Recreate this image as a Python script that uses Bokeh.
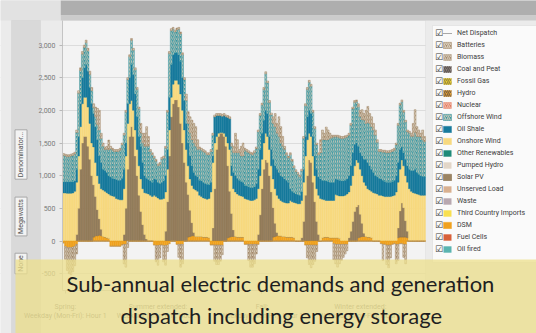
from bokeh.plotting import figure
from bokeh.models import (ColumnDataSource, Range1d, FixedTicker, NumeralTickFormatter,
                          Legend, LegendItem, BoxAnnotation, Label)
from bokeh.transform import stack
from bokeh.embed import file_html
from bokeh.resources import INLINE

# ---------------- data (MW, hourly, 8 representative days) ----------------
hours = list(range(192))

dsm = [
    0, 0, 0, 0, 0, 0, 0, 0, 0, 0, 0, 0, 0, 0, 0, 0, 60, 80, 80, 90, 80, 70, 60, 50,
    40, 0, 0, 0, 0, 0, 0, 0, 0, 0, 0, 0, 0, 0, 0, 0, 0, 0, 0, 0, 0, 0, 0, 0,
    0, 0, 0, 0, 0, 0, 0, 0, 0, 0, 0, 0, 0, 0, 0, 0, 0, 0, 60, 70, 80, 80, 70, 70,
    70, 70, 60, 60, 60, 50, 0, 0, 0, 0, 0, 0, 0, 0, 0, 50, 60, 70, 70, 70, 60, 60, 60, 60,
    0, 0, 0, 0, 0, 0, 0, 0, 0, 0, 0, 0, 0, 0, 0, 60, 70, 80, 80, 80, 70, 70, 60, 60,
    60, 60, 50, 0, 0, 0, 0, 0, 0, 0, 0, 0, 0, 0, 0, 0, 0, 50, 60, 60, 60, 50, 50, 50,
    50, 50, 40, 0, 0, 0, 0, 0, 0, 0, 0, 0, 50, 60, 70, 70, 70, 60, 60, 50, 0, 0, 0, 0,
    0, 0, 0, 0, 0, 0, 0, 0, 0, 50, 60, 60, 60, 60, 50, 0, 0, 0, 0, 0, 0, 0, 0, 0,
]
solar = [
    0, 0, 0, 0, 0, 0, 0, 100, 500, 1100, 1500, 1600, 1600, 1450, 1250, 1000, 800, 600, 400, 250, 100, 0, 0, 0,
    0, 0, 0, 0, 0, 0, 0, 0, 100, 500, 1100, 1600, 1750, 1600, 1300, 1000, 700, 450, 250, 100, 30, 0, 0, 0,
    0, 0, 0, 0, 0, 0, 150, 600, 1300, 1900, 2100, 2160, 2160, 2050, 1800, 1500, 1200, 900, 650, 400, 200, 50, 0, 0,
    0, 0, 0, 0, 0, 0, 0, 200, 800, 1400, 1600, 1650, 1650, 1600, 1450, 1100, 700, 350, 100, 0, 0, 0, 0, 0,
    0, 0, 0, 0, 0, 0, 0, 100, 400, 800, 1100, 1240, 1200, 1000, 750, 450, 200, 50, 0, 0, 0, 0, 0, 0,
    0, 0, 0, 0, 0, 0, 50, 300, 700, 1000, 1240, 1200, 900, 600, 300, 100, 0, 0, 0, 0, 0, 0, 0, 0,
    0, 0, 0, 0, 0, 0, 0, 50, 150, 300, 450, 520, 500, 350, 200, 50, 0, 0, 0, 0, 0, 0, 0, 0,
    0, 0, 0, 0, 0, 0, 0, 0, 0, 150, 400, 520, 450, 250, 100, 0, 0, 0, 0, 0, 0, 0, 0, 0,
]
onshore = [
    735, 735, 730, 730, 730, 735, 760, 800, 800, 650, 600, 600, 600, 600, 550, 500, 580, 520, 520, 540, 620, 710, 700, 690,
    680, 700, 690, 680, 650, 640, 630, 630, 700, 800, 700, 500, 400, 400, 400, 400, 450, 500, 550, 640, 700, 720, 700, 680,
    700, 680, 660, 640, 640, 650, 600, 500, 400, 300, 300, 300, 300, 350, 450, 500, 500, 500, 440, 480, 570, 670, 710, 690,
    630, 610, 600, 590, 580, 600, 750, 1000, 700, 200, 50, 10, 10, 50, 150, 350, 640, 580, 630, 680, 660, 640, 630, 620,
    650, 640, 630, 620, 620, 630, 650, 700, 600, 450, 400, 410, 400, 400, 400, 440, 530, 570, 570, 540, 530, 520, 520, 520,
    560, 540, 540, 580, 570, 570, 570, 600, 600, 550, 410, 400, 400, 400, 500, 600, 650, 590, 570, 560, 560, 570, 570, 570,
    660, 650, 650, 690, 690, 700, 720, 700, 700, 700, 700, 720, 650, 690, 730, 780, 780, 740, 720, 710, 740, 730, 720, 700,
    700, 690, 680, 680, 680, 680, 690, 700, 750, 700, 640, 660, 640, 690, 750, 800, 760, 740, 730, 720, 710, 700, 700, 700,
]
oil_shale = [
    170, 170, 175, 175, 175, 170, 160, 200, 300, 350, 400, 450, 500, 550, 550, 600, 510, 550, 550, 420, 400, 320, 320, 310,
    280, 280, 270, 270, 290, 290, 300, 330, 300, 200, 300, 400, 550, 550, 550, 500, 450, 500, 400, 260, 230, 220, 220, 220,
    250, 260, 240, 240, 260, 270, 250, 300, 500, 500, 450, 420, 420, 450, 500, 500, 450, 400, 350, 350, 300, 250, 220, 220,
    230, 240, 240, 230, 230, 210, 150, 100, 400, 320, 270, 260, 250, 270, 300, 390, 470, 150, 250, 250, 240, 230, 220, 220,
    200, 200, 200, 200, 200, 200, 230, 300, 400, 400, 350, 350, 350, 200, 250, 300, 350, 400, 400, 380, 380, 360, 350, 320,
    180, 160, 150, 140, 140, 130, 130, 200, 300, 350, 350, 350, 300, 300, 300, 280, 300, 290, 290, 300, 290, 280, 280, 280,
    240, 240, 240, 230, 230, 230, 230, 250, 300, 350, 330, 260, 250, 250, 300, 350, 400, 400, 370, 340, 310, 270, 260, 260,
    250, 240, 230, 220, 220, 220, 220, 230, 250, 300, 300, 200, 200, 250, 250, 300, 320, 340, 370, 330, 310, 300, 290, 280,
]
offshore = [
    405, 395, 385, 385, 395, 405, 410, 560, 660, 510, 360, 310, 335, 310, 200, 200, 90, 150, 230, 400, 370, 350, 320, 350,
    395, 430, 430, 420, 430, 440, 460, 510, 520, 470, 370, 320, 370, 370, 370, 420, 420, 200, 300, 450, 490, 510, 450, 420,
    320, 280, 250, 290, 350, 350, 420, 570, 670, 520, 390, 320, 350, 390, 420, 350, 320, 350, 300, 350, 400, 450, 450, 420,
    480, 470, 470, 470, 450, 460, 470, 320, 0, 0, 0, 0, 0, 0, 0, 0, 0, 300, 300, 350, 390, 420, 390, 400,
    540, 530, 520, 510, 500, 520, 530, 570, 520, 430, 470, 560, 470, 520, 530, 550, 600, 550, 550, 500, 470, 450, 390, 370,
    520, 460, 380, 340, 310, 280, 320, 470, 470, 420, 430, 420, 370, 420, 370, 340, 400, 620, 630, 625, 640, 670, 680, 690,
    640, 650, 650, 650, 650, 650, 640, 620, 620, 670, 640, 630, 600, 550, 560, 600, 550, 610, 650, 650, 650, 620, 530, 410,
    420, 430, 450, 450, 450, 460, 460, 460, 470, 570, 680, 690, 620, 570, 520, 550, 520, 520, 560, 550, 580, 590, 560, 540,
]
batteries = [
    30, 30, 30, 30, 30, 30, 30, 40, 40, 40, 40, 40, 40, 40, 50, 50, 60, 150, 250, 300, 80, 50, 40, 50,
    150, 40, 30, 30, 30, 30, 30, 30, 30, 30, 30, 30, 30, 30, 30, 30, 30, 150, 150, 200, 300, 150, 30, 30,
    30, 30, 30, 30, 30, 30, 30, 30, 30, 30, 30, 30, 30, 30, 30, 30, 30, 100, 180, 250, 300, 300, 300, 150,
    30, 30, 30, 30, 30, 30, 30, 30, 30, 30, 30, 30, 30, 30, 30, 30, 30, 50, 100, 300, 200, 50, 150, 200,
    30, 30, 30, 30, 30, 30, 30, 30, 30, 30, 30, 30, 30, 30, 30, 100, 200, 150, 300, 250, 150, 50, 30, 30,
    30, 30, 30, 30, 30, 30, 30, 30, 30, 30, 30, 30, 30, 30, 30, 30, 200, 150, 100, 200, 150, 80, 40, 30,
    30, 30, 30, 30, 30, 30, 30, 30, 30, 30, 30, 30, 50, 100, 150, 100, 200, 250, 150, 150, 100, 80, 40, 30,
    30, 30, 30, 30, 30, 30, 30, 30, 30, 30, 30, 30, 30, 30, 30, 30, 50, 200, 350, 150, 100, 60, 150, 80,
]
dsm_neg = [
    -30, -80, -100, -100, -100, -90, -80, -50, 0, 0, 0, 0, 0, 0, 0, 0, 0, 0, 0, 0, 0, 0, 0, 0,
    0, -80, -80, -80, -80, -80, -80, -60, -50, -50, 0, 0, 0, 0, 0, 0, 0, 0, 0, 0, 0, 0, 0, 0,
    -60, -70, -70, -60, -60, -70, -70, -60, -40, 0, 0, 0, -50, -50, -50, -50, 0, 0, 0, 0, 0, 0, 0, 0,
    0, 0, 0, 0, 0, 0, -60, -60, -60, -60, -60, -60, -60, 0, 0, 0, 0, 0, 0, 0, 0, 0, 0, 0,
    -50, -50, -50, -50, -50, -50, -50, -50, 0, 0, 0, 0, 0, 0, 0, 0, 0, 0, 0, 0, 0, 0, 0, 0,
    0, 0, 0, 0, 0, 0, 0, 0, -60, -60, -60, -60, -60, -60, -60, 0, 0, 0, 0, 0, 0, 0, 0, -40,
    -50, -50, -50, -50, -50, -50, -50, 0, 0, 0, 0, 0, 0, 0, 0, 0, 0, 0, 0, 0, 0, 0, 0, 0,
    -40, -50, -50, -60, -60, -60, -50, -40, -50, -50, -40, -40, -50, -50, 0, 0, 0, 0, 0, 0, 0, 0, 0, 0,
]
batt_neg = [
    0, -200, -350, -400, -420, -380, -300, -150, 0, 0, 0, 0, 0, 0, 0, 0, 0, 0, 0, 0, 0, 0, 0, 0,
    0, 0, 0, 0, 0, 0, 0, 0, -300, -350, -100, 0, 0, 0, 0, 0, 0, 0, 0, 0, 0, 0, 0, 0,
    0, -250, -300, -200, 0, -250, -300, -100, 0, 0, 0, 0, 0, -200, -350, -300, 0, 0, 0, 0, 0, 0, 0, 0,
    0, 0, 0, 0, 0, 0, 0, 0, -250, -300, -300, -250, -150, 0, 0, 0, 0, 0, 0, 0, 0, 0, 0, 0,
    0, 0, -250, -350, -350, -300, -150, 0, 0, 0, 0, 0, 0, 0, 0, 0, 0, 0, 0, 0, 0, 0, 0, 0,
    0, 0, 0, 0, 0, 0, 0, 0, 0, -200, -300, -350, -300, -250, -100, 0, 0, 0, 0, 0, 0, 0, 0, -250,
    -300, -350, -300, -250, -200, -150, -100, 0, 0, 0, 0, 0, 0, 0, 0, 0, 0, 0, 0, 0, 0, 0, 0, 0,
    0, -250, 0, -300, -350, -200, 0, 0, -300, -250, 0, 0, -200, -300, 0, 0, 0, 0, 0, 0, 0, 0, 0, 0,
]
# technologies listed in the legend that dispatch nothing in these hours
idle = [0] * len(hours)

season_ticks = [1, 50, 105, 157]
season_labels = ["Spring:", "Summer extended:", "Fall:", "Winter extended:"]
day_label = "Weekday (Mon-Fri): Hour 1"
y_ticks = [-500, 0, 500, 1000, 1500, 2000, 2500, 3000]

legend_names = ["Net Dispatch", "Batteries", "Biomass", "Coal and Peat", "Fossil Gas", "Hydro",
                "Nuclear", "Offshore Wind", "Oil Shale", "Onshore Wind", "Other Renewables",
                "Pumped Hydro", "Solar PV", "Unserved Load", "Waste", "Third Country Imports",
                "DSM", "Fuel Cells", "Oil fired"]

caption_1 = "Sub-annual electric demands and generation"
caption_2 = "dispatch including energy storage"
tab_labels = ["Denominator...", "Megawatts", "None"]

# ---------------- geometry (page pixels) ----------------
W, H = 536, 333
PL, PR, PT, PB = 62, 425, 20, 290          # plot area edges
X0, X1 = -0.5, 191.5                        # data extent of the bars
Y_AT_0, Y_AT_3000 = 240.5, 44.5             # pixel rows of 0 and 3,000 MW
xs = (PR - PL) / (X1 - X0)
ys = (Y_AT_0 - Y_AT_3000) / 3000.0
x_lo, x_hi = X0 - PL / xs, X1 + (W - PR) / xs
y_hi, y_lo = 3000 + Y_AT_3000 / ys, -(H - Y_AT_0) / ys
plot_top, plot_bottom = 3000 + (Y_AT_3000 - PT) / ys, -(PB - Y_AT_0) / ys

# ---------------- styles ----------------
STYLE = {
    "Batteries":        ("#A58B6C", "#D9CFBE"),
    "Biomass":          ("#A48A6E", "#CFC3B0"),
    "Coal and Peat":    ("#8E8480", "#5F5652"),
    "Fossil Gas":       ("#E8D030", "#9E8A3A"),
    "Hydro":            ("#E8A030", "#7E6440"),
    "Nuclear":          ("#E07860", "#F2B3A0"),
    "Offshore Wind":    ("#3A98A2", "#C2C6B6"),
    "Oil Shale":        ("#177A9C", None),
    "Onshore Wind":     ("#F7D97F", None),
    "Other Renewables": ("#1E8A78", None),
    "Pumped Hydro":     ("#E2D6C8", None),
    "Solar PV":         ("#9C8462", None),
    "Unserved Load":    ("#D8B090", None),
    "Waste":            ("#B8A8B0", None),
    "Third Country Imports": ("#F8E050", None),
    "DSM":              ("#F0A11E", None),
    "Fuel Cells":       ("#D8603A", None),
    "Oil fired":        ("#5AB4B0", None),
}

def style_kw(name, outline=True):
    fill, hatch = STYLE[name]
    kw = dict(fill_color=fill, line_color=fill if outline else None, line_width=0.4)
    if hatch:
        kw.update(hatch_pattern="/", hatch_color=hatch, hatch_scale=4, hatch_weight=1.3)
    return kw

def pbox(x0, y0, x1, y1, **kw):
    """Decoration box given in page pixels (frame == whole canvas)."""
    return BoxAnnotation(left=x0, right=x1, top=H - y0, bottom=H - y1,
                         left_units="screen", right_units="screen",
                         top_units="screen", bottom_units="screen", **kw)

src = ColumnDataSource(dict(hour=hours, dsm=dsm, solar=solar, onshore=onshore,
                            oil_shale=oil_shale, offshore=offshore, batteries=batteries,
                            dsm_neg=dsm_neg, batt_neg=batt_neg, idle=idle))

p = figure(width=W, height=H, output_backend="svg", toolbar_location=None,
           x_range=Range1d(x_lo, x_hi), y_range=Range1d(y_lo, y_hi), min_border=0,
           background_fill_color="#F3F3F3", border_fill_color="#EBEBEB")
p.title.visible = False
p.outline_line_color = None

# ---------------- axes (fixed inside the frame so the frame spans the whole canvas) -------------
p.xgrid.visible = False
p.ygrid.grid_line_color = "#DCDCDC"
p.ygrid.level = "image"
p.yaxis.ticker = FixedTicker(ticks=y_ticks)
p.yaxis.formatter = NumeralTickFormatter(format="0,0")
p.yaxis.fixed_location = X0
p.yaxis.bounds = (plot_bottom, plot_top)
p.xaxis.ticker = FixedTicker(ticks=season_ticks)
p.xaxis.major_label_overrides = {t: f"{s}\n{day_label}" for t, s in zip(season_ticks, season_labels)}
p.xaxis.fixed_location = plot_bottom
p.xaxis.bounds = (X0, X1)
for ax in (p.xaxis[0], p.yaxis[0]):
    ax.axis_line_color = "#C4C4C4"
    ax.major_tick_line_color = "#B8B8B8"
    ax.minor_tick_line_color = None
    ax.major_tick_out = 3
    ax.major_tick_in = 0
    ax.major_label_text_font = "Roboto"
    ax.major_label_text_font_size = "7px"
    ax.major_label_text_color = "#7A7A7A"
p.yaxis.major_label_standoff = 4
p.xaxis.major_label_standoff = 9

# masks outside the plot area (drawn over the grid, under glyphs and axes)
BORDER = "#EBEBEB"
for box in [(0, 0, PL, H + 10), (PR, 0, W + 10, H + 10), (0, -10, W + 10, PT), (0, PB, W + 10, H + 10)]:
    p.add_layout(pbox(*box, fill_color=BORDER, fill_alpha=1, line_color=None, level="underlay"))
p.add_layout(pbox(60, -10, W + 10, 15, fill_color="#AEAEAE", fill_alpha=1, line_color=None, level="underlay"))
p.add_layout(pbox(60, 15, W + 10, PT, fill_color="#CBCBCB", fill_alpha=1, line_color=None, level="underlay"))
p.add_layout(pbox(0, -10, 60, PT, fill_color="#E2E2E2", fill_alpha=1, line_color=None, level="underlay"))
p.add_layout(pbox(11, PT, 40, H + 10, fill_color="#D9D9D9", fill_alpha=1, line_color="#C6C6C6",
                  line_width=1, level="underlay"))
p.add_layout(BoxAnnotation(left=X0, right=X1, bottom=plot_bottom, top=plot_top, fill_alpha=0,
                           line_color="#CFCFCF", line_width=1, level="underlay"))

# ---------------- stacked bars ----------------
renderers = {}
# net dispatch reference line kept beneath the bars
renderers["Net Dispatch"] = p.line(x="hour", y="idle", source=src, line_color="#A8A8A8",
                                   line_width=1, level="underlay")
pos = [("dsm", "DSM"), ("solar", "Solar PV"), ("onshore", "Onshore Wind"),
       ("oil_shale", "Oil Shale"), ("offshore", "Offshore Wind"), ("batteries", "Batteries")]
prev = []
for field, name in pos:
    kw = style_kw(name)
    if field == "solar":
        kw["line_color"] = "#87704F"
        kw["line_width"] = 0.6
    r = p.vbar(x="hour", width=1, bottom=stack(*prev), top=stack(*prev, field), source=src, **kw)
    renderers.setdefault(name, r)
    prev.append(field)

p.vbar(x="hour", width=1, bottom=0, top="dsm_neg", source=src, **style_kw("DSM"))
p.vbar(x="hour", width=1, bottom=stack("dsm_neg"), top=stack("dsm_neg", "batt_neg"),
       source=src, **style_kw("Batteries"))

# technologies with zero output (zero-height bars, shown in the legend only)
for name in legend_names:
    if name not in renderers:
        renderers[name] = p.vbar(x="hour", top="idle", width=1, source=src,
                                 **style_kw(name, outline=False))

# ---------------- left tabs ----------------
for txt, yc in zip(tab_labels, [154, 216, 263]):
    p.add_layout(Label(x=20.5, y=H - yc, x_units="screen", y_units="screen", text=txt, angle=90,
                       angle_units="deg", text_align="center", text_baseline="middle",
                       text_font="Roboto", text_font_size="7px", text_color="#555555",
                       background_fill_color="#F3F3F3", border_line_color="#A8A8A8", padding=2))

# ---------------- legend ----------------
p.add_layout(pbox(432, 25, W + 10, 262, fill_color="#FAFAFA", fill_alpha=1,
                  line_color="#C8C8C8", line_width=1))
LEG_BOTTOM = H - 255
chk = p.scatter(x=[], y=[], size=0, alpha=0)
legend_chk = Legend(items=[LegendItem(label="\u2611", renderers=[chk]) for _ in legend_names],
                    location=(434, LEG_BOTTOM), glyph_width=1, glyph_height=8, label_height=12,
                    label_standoff=0, spacing=0, padding=0, margin=0,
                    label_text_font="DejaVu Sans", label_text_font_size="9px",
                    label_text_color="#3A3A3A", background_fill_alpha=0,
                    border_line_color=None)
legend_main = Legend(items=[LegendItem(label=n, renderers=[renderers[n]]) for n in legend_names],
                     location=(442, LEG_BOTTOM), glyph_width=10, glyph_height=8, label_height=12,
                     label_standoff=5, spacing=0, padding=0, margin=0,
                     label_text_font="Roboto", label_text_font_size="7px",
                     label_text_color="#3C3C3C", background_fill_alpha=0,
                     border_line_color=None)
p.add_layout(legend_chk, "center")
p.add_layout(legend_main, "center")

# ---------------- caption overlay ----------------
p.add_layout(pbox(15, 259, W + 10, H + 10, fill_color="#EDE08C", fill_alpha=0.76, line_color=None))
p.add_layout(Label(x=280, y=H - 283, x_units="screen", y_units="screen", text=caption_1,
                   text_align="center", text_baseline="middle", text_font="Lato",
                   text_font_size="22px", text_color="#1F1F1F"))
p.add_layout(Label(x=281, y=H - 315, x_units="screen", y_units="screen", text=caption_2,
                   text_align="center", text_baseline="middle", text_font="Lato",
                   text_font_size="22px", text_color="#1F1F1F"))

open("out.html", "w").write(file_html(p, INLINE))
